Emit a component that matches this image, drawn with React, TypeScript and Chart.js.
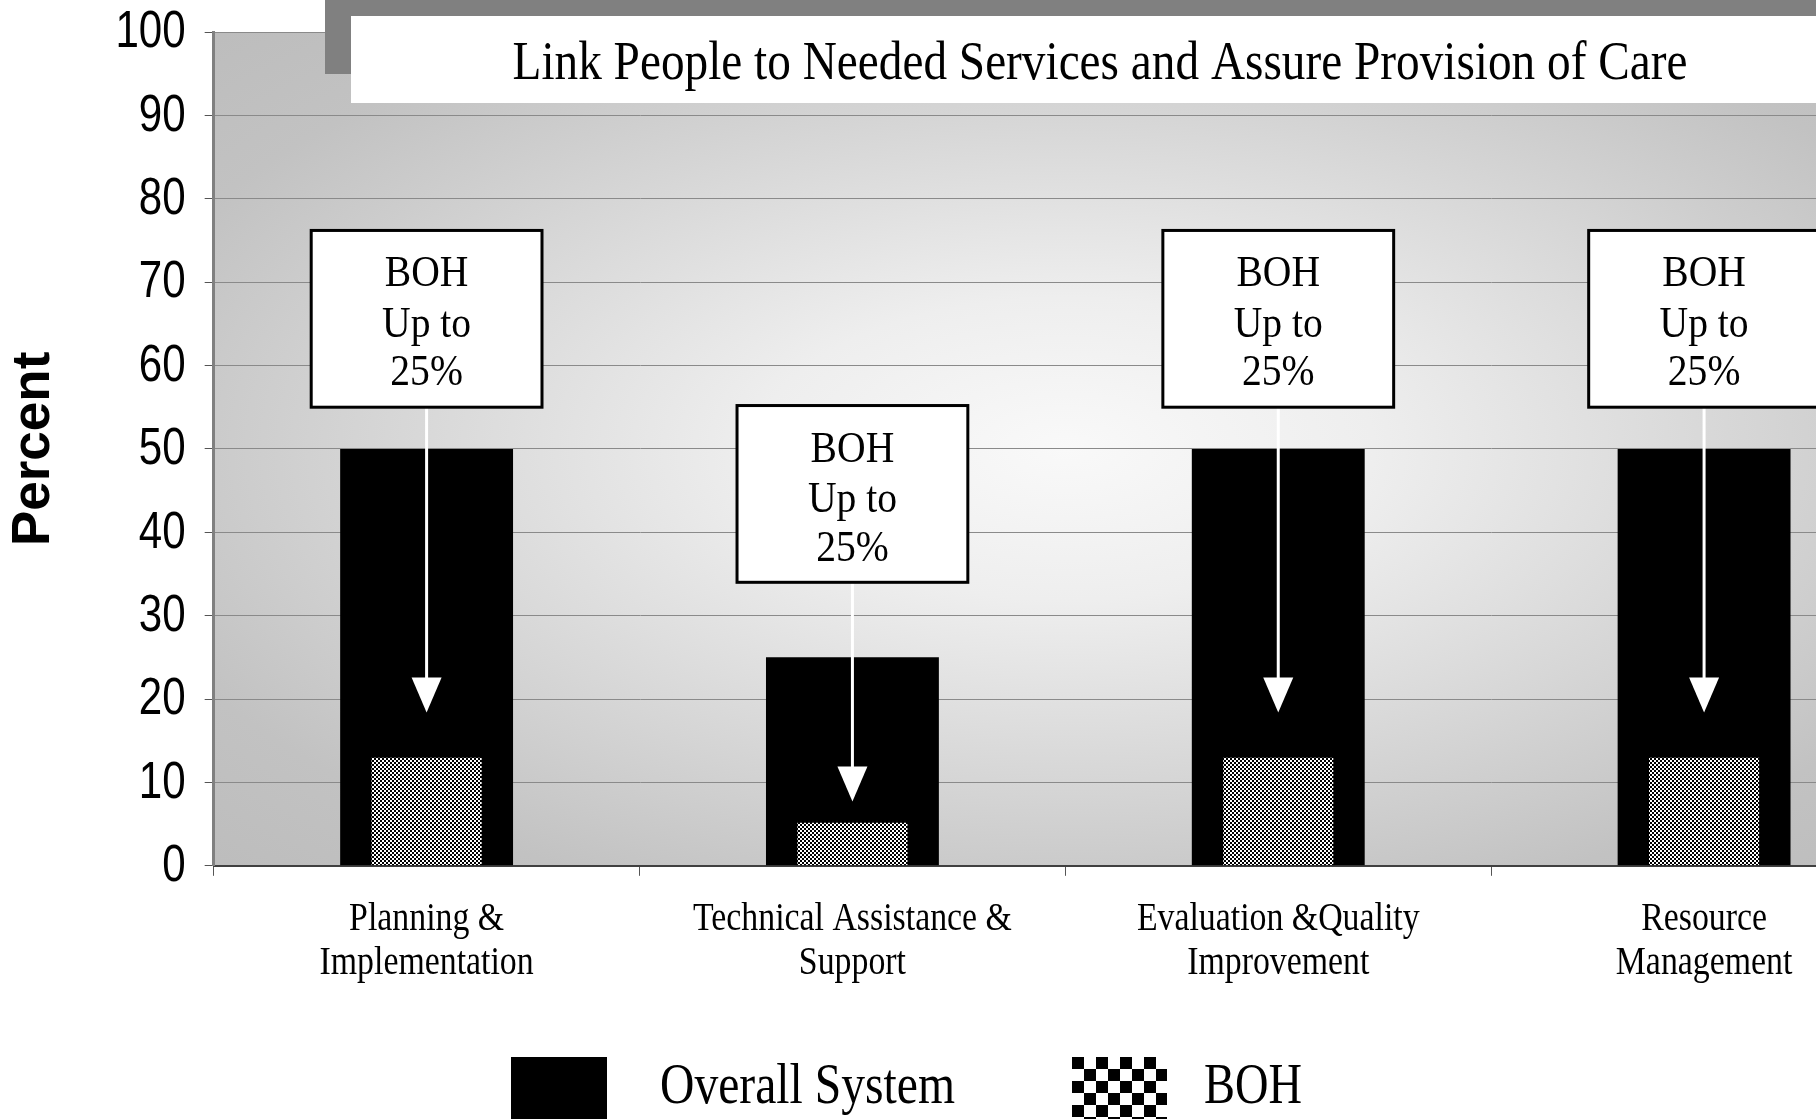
import React, { useEffect, useRef } from "react";
import { Chart, registerables } from "chart.js";

Chart.register(...registerables);

// ---------- data ----------
const categories: string[][] = [
  ["Planning &", "Implementation"],
  ["Technical Assistance &", "Support"],
  ["Evaluation &Quality", "Improvement"],
  ["Resource", "Management"],
];
const seriesNames = ["Overall System", "BOH"];
const overallSystem = [50, 25, 50, 50];
const bohValues = [13.2, 5.4, 13.2, 13.2];
const yMin = 0;
const yMax = 100;
const yStep = 10;
const chartTitle = "Link People to Needed Services and Assure Provision of Care";
const yAxisTitle = "Percent";
const calloutLines = ["BOH", "Up to", "25%"];
const calloutTop = [76.2, 55.2, 76.2, 76.2];
const calloutBottom = [55, 34, 55, 55];
const arrowTip = [18.4, 7.7, 18.4, 18.4];

const SERIF = '"Liberation Serif", "Times New Roman", serif';
const SANS = '"Liberation Sans", Arial, sans-serif';

function makeChecker(cell: number): CanvasPattern {
  const c = document.createElement("canvas");
  c.width = cell * 2;
  c.height = cell * 2;
  const g = c.getContext("2d")!;
  g.fillStyle = "#ffffff";
  g.fillRect(0, 0, cell * 2, cell * 2);
  g.fillStyle = "#000000";
  g.fillRect(0, 0, cell, cell);
  g.fillRect(cell, cell, cell, cell);
  return g.createPattern(c, "repeat")!;
}

function drawTextCondensed(ctx: CanvasRenderingContext2D, text: string, x: number, y: number, sx: number) {
  ctx.save();
  ctx.translate(x, y);
  ctx.scale(sx, 1);
  ctx.fillText(text, 0, 0);
  ctx.restore();
}

const backgroundPlugin = {
  id: "plotBackground",
  beforeDraw(chart: any) {
    const { ctx, chartArea } = chart;
    const { left, right, top, bottom } = chartArea;
    const cx = (left + right) / 2;
    const cy = (top + bottom) / 2;
    const rx = (right - left) / 2;
    const ry = (bottom - top) / 2;
    ctx.save();
    ctx.beginPath();
    ctx.rect(left, top, right - left, bottom - top);
    ctx.clip();
    ctx.translate(cx, cy);
    ctx.scale(rx / ry, 1);
    const r = ry * 1.45;
    const g = ctx.createRadialGradient(0, 0, 0, 0, 0, r);
    g.addColorStop(0, "#f9f9f9");
    g.addColorStop(0.25, "#eeeeee");
    g.addColorStop(0.6, "#d2d2d2");
    g.addColorStop(0.8, "#c2c2c2");
    g.addColorStop(1, "#bcbcbc");
    ctx.fillStyle = g;
    ctx.fillRect(-ry - 10, -ry - 10, ry * 2 + 20, ry * 2 + 20);
    ctx.restore();
  },
};

const overlayPlugin = {
  id: "overlay",
  afterDatasetsDraw(chart: any) {
    const { ctx, scales } = chart;
    const xs = scales.x;
    const ys = scales.y;
    const catW = xs.getPixelForValue(1) - xs.getPixelForValue(0);
    const boxW = catW * 0.542;
    ctx.save();
    for (let i = 0; i < categories.length; i++) {
      const cx = xs.getPixelForValue(i);
      const top = ys.getPixelForValue(calloutTop[i]);
      const bot = ys.getPixelForValue(calloutBottom[i]);
      const tip = ys.getPixelForValue(arrowTip[i]);
      const headH = 35;
      const headHalf = 15;
      ctx.strokeStyle = "#ffffff";
      ctx.lineWidth = 3;
      ctx.beginPath();
      ctx.moveTo(cx, bot);
      ctx.lineTo(cx, tip - headH + 2);
      ctx.stroke();
      ctx.fillStyle = "#ffffff";
      ctx.beginPath();
      ctx.moveTo(cx - headHalf, tip - headH);
      ctx.lineTo(cx + headHalf, tip - headH);
      ctx.lineTo(cx, tip);
      ctx.closePath();
      ctx.fill();
      ctx.fillStyle = "#ffffff";
      ctx.fillRect(cx - boxW / 2, top, boxW, bot - top);
      ctx.strokeStyle = "#000000";
      ctx.lineWidth = 3;
      ctx.strokeRect(cx - boxW / 2, top, boxW, bot - top);
      ctx.fillStyle = "#000000";
      ctx.font = `45px ${SERIF}`;
      ctx.textAlign = "center";
      ctx.textBaseline = "alphabetic";
      const h = bot - top;
      const offs = [0.317, 0.6, 0.877];
      calloutLines.forEach((t, k) => drawTextCondensed(ctx, t, cx, top + h * offs[k], 0.88));
    }
    ctx.restore();
  },
  afterDraw(chart: any) {
    const { ctx, scales, chartArea } = chart;
    const xs = scales.x;
    const ys = scales.y;
    ctx.save();
    // y tick labels (condensed)
    ctx.fillStyle = "#000000";
    ctx.font = `52px ${SANS}`;
    ctx.textAlign = "right";
    ctx.textBaseline = "middle";
    ys.ticks.forEach((t: any) => {
      drawTextCondensed(ctx, String(t.value), chartArea.left - 28, ys.getPixelForValue(t.value) + 1, 0.81);
    });
    // x tick labels (condensed)
    ctx.font = `41px ${SERIF}`;
    ctx.textAlign = "center";
    ctx.textBaseline = "alphabetic";
    categories.forEach((lines, i) => {
      const x = xs.getPixelForValue(i);
      lines.forEach((ln, k) => drawTextCondensed(ctx, ln, x, chartArea.bottom + 64 + k * 44, 0.825));
    });

    // title box with shadow
    ctx.fillStyle = "#808080";
    ctx.fillRect(325, -20, 2000, 94);
    ctx.fillStyle = "#ffffff";
    ctx.fillRect(351, 16, 2000, 87);
    ctx.fillStyle = "#000000";
    ctx.font = `54px ${SERIF}`;
    ctx.textAlign = "center";
    ctx.textBaseline = "alphabetic";
    ctx.fillText(chartTitle, 1100, 79, 1175);

    // legend
    const ds = chart.data.datasets;
    ctx.fillStyle = ds[0].backgroundColor;
    ctx.fillRect(511, 1057, 96, 96);
    ctx.fillStyle = "#000000";
    ctx.font = `58px ${SERIF}`;
    ctx.textAlign = "left";
    ctx.fillText(ds[0].label, 660, 1103, 295);
    ctx.save();
    ctx.translate(1072, 1057);
    ctx.fillStyle = makeChecker(12);
    ctx.fillRect(0, 0, 95, 96);
    ctx.restore();
    ctx.fillStyle = "#000000";
    ctx.font = `58px ${SERIF}`;
    ctx.fillText(ds[1].label, 1204, 1103, 98);
    ctx.restore();
  },
};

export default function App() {
  const ref = useRef<HTMLCanvasElement>(null);
  useEffect(() => {
    if (!ref.current) return;
    const pattern = makeChecker(2);
    const chart = new Chart(ref.current, {
      type: "bar",
      data: {
        labels: categories as any,
        datasets: [
          {
            label: seriesNames[0],
            data: overallSystem,
            backgroundColor: "#000000",
            borderWidth: 0,
            barPercentage: 0.406,
            categoryPercentage: 1,
            grouped: false,
            order: 2,
          } as any,
          {
            label: seriesNames[1],
            data: bohValues,
            backgroundColor: pattern,
            borderColor: "#000000",
            borderWidth: 2,
            barPercentage: 0.268,
            categoryPercentage: 1,
            grouped: false,
            order: 1,
          } as any,
        ],
      },
      options: {
        animation: false,
        responsive: false,
        devicePixelRatio: 1,
        layout: { padding: { left: 0, right: 13, top: 32, bottom: 127 } },
        plugins: {
          legend: { display: false },
          title: { display: false },
          tooltip: { enabled: false },
        },
        scales: {
          x: {
            grid: {
              display: true,
              drawOnChartArea: false,
              drawTicks: true,
              tickLength: 10,
              color: "#555555",
              offset: true,
            },
            border: { display: true, color: "#404040", width: 2 },
            ticks: {
              font: { family: SERIF, size: 35, lineHeight: 1.26 },
              color: "rgba(0,0,0,0)",
              padding: 14,
              maxRotation: 0,
              autoSkip: false,
            },
          },
          y: {
            min: yMin,
            max: yMax,
            ticks: {
              stepSize: yStep,
              font: { family: SANS, size: 48 },
              color: "rgba(0,0,0,0)",
              padding: 0,
            },
            grid: {
              color: "#8a8a8a",
              lineWidth: 1,
              tickLength: 9,
              tickColor: "#555555",
            },
            border: { display: true, color: "#808080", width: 3 },
            title: {
              display: true,
              text: yAxisTitle,
              font: { family: SANS, size: 53, weight: "bold" },
              color: "#000000",
              padding: { top: 3, bottom: 58 },
            },
          },
        },
      },
      plugins: [backgroundPlugin, overlayPlugin],
    });
    return () => chart.destroy();
  }, []);
  return (
    <div
      style={{
        position: "fixed",
        left: 0,
        top: 0,
        width: 1816,
        height: 1119,
        overflow: "hidden",
        background: "#ffffff",
      }}
    >
      <canvas ref={ref} width={1930} height={1119} style={{ display: "block", width: 1930, height: 1119 }} />
    </div>
  );
}
